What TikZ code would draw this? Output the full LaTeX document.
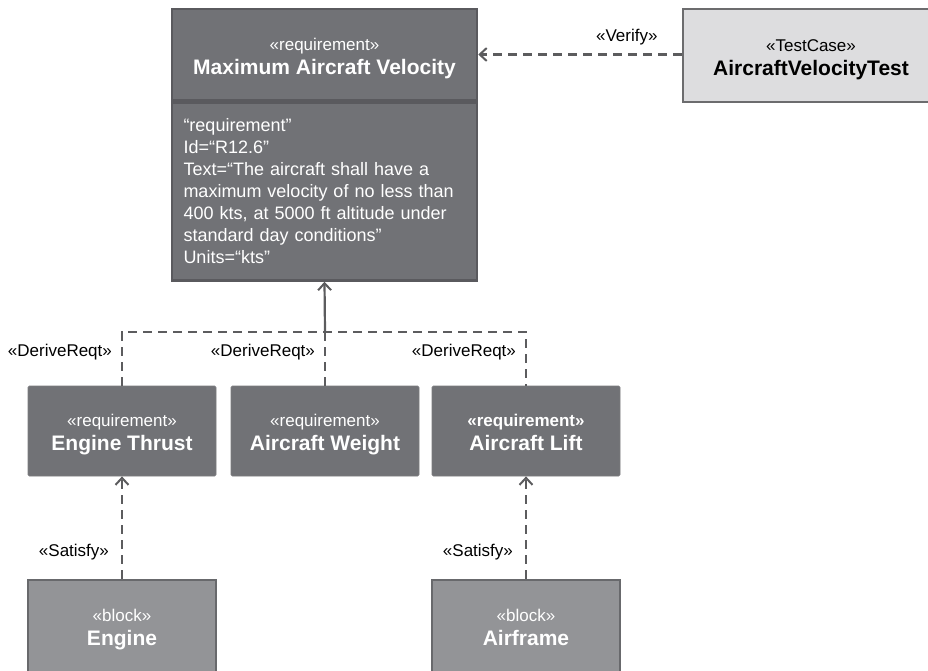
\documentclass[tikz,border=0pt]{standalone}
\usepackage{fontspec}
\setmainfont{Liberation Sans}
\usetikzlibrary{arrows.meta}

\definecolor{reqgray}{RGB}{113,114,118}
\definecolor{reqedge}{RGB}{90,90,94}
\definecolor{blockgray}{RGB}{147,148,151}
\definecolor{blockedge}{RGB}{104,105,108}
\definecolor{testgray}{RGB}{221,221,223}
\definecolor{testedge}{RGB}{108,108,110}
\definecolor{linegray}{RGB}{92,92,94}

\newcommand{\stereofont}{\fontsize{17}{24}\selectfont}
\newcommand{\namefont}{\fontsize{21}{24}\selectfont\bfseries}
% two text lines of a box: stereotype, then name
\newcommand{\boxlines}[2]{\rule{0pt}{23pt}#1\\{\namefont #2}\strut}

\begin{document}
\begin{tikzpicture}[x=1pt, y=-1pt,
  req/.style={fill=reqgray, draw=reqedge!80!white, line width=0.8pt, rounded corners=1.5pt,
    minimum width=188pt, minimum height=90pt, text=white, align=center, inner sep=0pt,
    font=\stereofont},
  reqhead/.style={fill=reqgray, draw=reqedge, line width=2.5pt,
    minimum width=305pt, minimum height=91pt, text=white, align=center, inner sep=0pt,
    font=\stereofont},
  reqbody/.style={fill=reqgray, draw=reqedge, line width=2.5pt, anchor=north,
    minimum height=178pt, text width=282pt, inner xsep=11.5pt, text=white, align=left,
    font=\fontsize{18}{22}\selectfont},
  blk/.style={fill=blockgray, draw=blockedge, line width=2.5pt,
    minimum width=188pt, minimum height=92pt, text=white, align=center, inner sep=0pt,
    font=\stereofont},
  tcase/.style={fill=testgray, draw=testedge, line width=2.5pt,
    minimum width=256pt, minimum height=93pt, text=black, align=center, inner sep=0pt,
    font=\stereofont},
  dep/.style={draw=linegray, line width=2.2pt, dash pattern=on 9pt off 6pt},
  tip/.style={-{Straight Barb[length=7pt, width=13pt, line width=2pt]}},
  lbl/.style={font=\fontsize{17}{20}\selectfont, text=black, inner sep=0pt}
]
\useasboundingbox (0,0) rectangle (928,670);

%%%%%%%%%%%%%%%%%%%%%%%%%%%%
% top requirement and its test case
\node[reqhead] (mav) at (324.5,54.5)
  {\boxlines{«requirement»}{Maximum Aircraft Velocity}};
\node[reqbody] (mavtext) at (mav.south)
  {“requirement”\\
   Id=“R12.6”\\
   Text=“The aircraft shall have a\\
   maximum velocity of no less than\\
   400 kts, at 5000 ft altitude under\\
   standard day conditions”\\
   Units=“kts”};

\node[tcase] (avt) at (811,55.5)
  {\boxlines{«TestCase»}{AircraftVelocityTest}};

\draw[dep, tip] (avt.west |- mav.east) -- node[lbl, pos=0.27, above=8pt] {«Verify»} (mav.east);

%%%%%%%%%%%%%%%%%%%%%%%%%%%%
% derived requirements
\node[req] (et) at (122,431)
  {\boxlines{«requirement»}{Engine Thrust}};
\node[req] (aw) at (325,431)
  {\boxlines{«requirement»}{Aircraft Weight}};
\node[req] (al) at (526,431)
  {\boxlines{\bfseries «requirement»}{Aircraft Lift}};

\coordinate (jn) at (325,332);

\draw[dep] (et.north) -- node[lbl, pos=0.63, left=9pt] {«DeriveReqt»} (et.north |- jn)
  -- (al.north |- jn) -- node[lbl, pos=0.37, left=9pt] {«DeriveReqt»} (al.north);
\draw[dep] (aw.north) -- node[lbl, pos=0.63, left=9pt] {«DeriveReqt»} (jn);
\draw[draw=linegray, line width=2.2pt, tip] (jn) -- (mavtext.south);

%%%%%%%%%%%%%%%%%%%%%%%%%%%%
% blocks
\node[blk] (eng) at (122,626)
  {\boxlines{«block»}{Engine}};
\node[blk] (afr) at (526,626)
  {\boxlines{«block»}{Airframe}};

\draw[dep, tip] (eng.north) -- node[lbl, pos=0.265, left=12pt] {«Satisfy»} (et.south);
\draw[dep, tip] (afr.north) -- node[lbl, pos=0.265, left=12pt] {«Satisfy»} (al.south);
\end{tikzpicture}
\end{document}
